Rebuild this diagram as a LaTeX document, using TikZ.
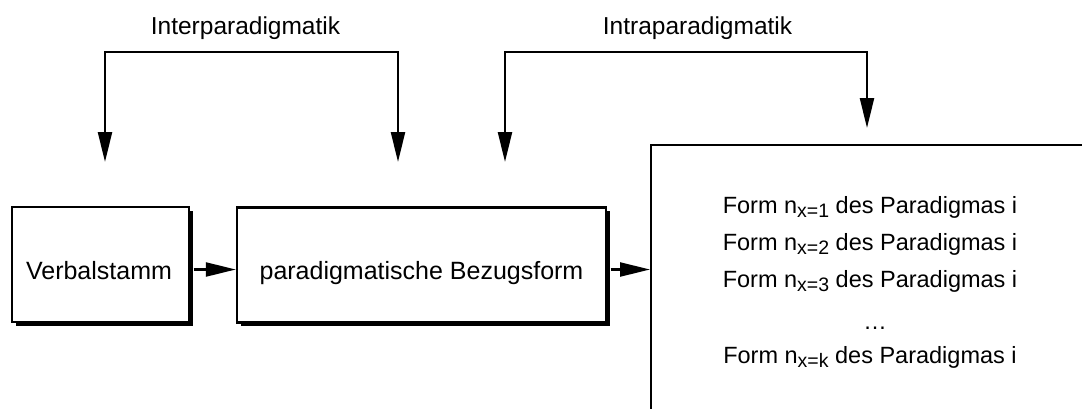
\documentclass[tikz,border=0pt]{standalone}
\usepackage{fontspec}
\setmainfont{Liberation Sans}
\usetikzlibrary{arrows.meta,shadows}

% subscript set a little smaller and lowered
\newcommand{\lowidx}[1]{\raisebox{-4.5pt}{\fontsize{19.5}{19.5}\selectfont #1}}

\begin{document}
\begin{tikzpicture}[x=1pt,y=-1pt,
  stembox/.style={draw, line width=2.4pt, fill=white, inner sep=0pt,
    drop shadow={shadow xshift=3.5pt, shadow yshift=-3.5pt, fill=black, opacity=1}},
  listbox/.style={draw, line width=2.4pt, fill=white, inner sep=0pt, anchor=north west,
    minimum width=500pt, minimum height=340pt},
  bigtext/.style={font=\fontsize{25}{30}\selectfont, inner sep=0pt, anchor=base},
  labeltext/.style={font=\fontsize{24.5}{29}\selectfont, inner sep=0pt, anchor=base},
  formline/.style={font=\fontsize{23.5}{28}\selectfont, inner sep=0pt, anchor=base},
  flow/.style={line width=2.3pt, -{Triangle[length=30pt,width=14pt]}},
  bracket/.style={line width=2.3pt,
    {Triangle[length=30pt,width=14pt]}-{Triangle[length=30pt,width=14pt]}}]

\useasboundingbox (0,0) rectangle (1082,408);
\clip (0,0) rectangle (1082,408);

% main boxes
\node[stembox, minimum width=177pt, minimum height=115pt] (stem) at (100.5,264.5) {};
\node[stembox, minimum width=369pt, minimum height=115pt] (ref) at (421.5,265) {};
\node[listbox] (list) at (650,144) {};

% box texts
\node[bigtext] (stemtext) at (99,279) {Verbalstamm};
\node[bigtext] (reftext) at (421.5,279) {paradigmatische Bezugsform};

% forms of the paradigm
\node[formline] (f1) at (870,213) {Form n\lowidx{x=1} des Paradigmas i};
\node[formline] (f2) at (870,250) {Form n\lowidx{x=2} des Paradigmas i};
\node[formline] (f3) at (870,287) {Form n\lowidx{x=3} des Paradigmas i};
\node[formline] (f4) at (875,329) {\dots};
\node[formline] (fk) at (870,363) {Form n\lowidx{x=k} des Paradigmas i};

% horizontal flow
\coordinate (row) at (0,269.5);
\draw[flow] ([xshift=3.5pt]stem.east |- row) -- (ref.west |- row);
\draw[flow] ([xshift=3.5pt]ref.east |- row) -- (list.west |- row);

% relation labels
\node[labeltext] (inter) at (245.5,34) {Interparadigmatik};
\node[labeltext] (intra) at (697.5,34) {Intraparadigmatik};

% bracket arrows
\coordinate (interA) at (105,162);
\coordinate (interB) at (398,162);
\coordinate (intraA) at (505,162);
\coordinate (intraB) at (867,128);
\draw[bracket] (interA) |- (inter.base |- 0,52) -| (interB);
\draw[bracket] (intraA) |- (intra.base |- 0,52) -| (intraB);

\end{tikzpicture}
\end{document}
